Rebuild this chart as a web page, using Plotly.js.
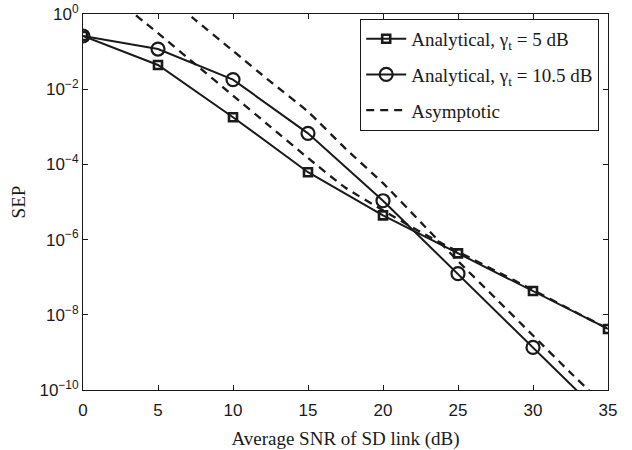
<!DOCTYPE html>
<html>
<head>
<meta charset="utf-8">
<script src="https://cdn.plot.ly/plotly-3.0.1.min.js"></script>
<style>
  html, body { margin: 0; padding: 0; background: #fff; }
  #chart { width: 632px; height: 450px; }
</style>
</head>
<body>
<div id="chart"></div>
<script>
// Average SNR of the SD link (dB)
const snrDb = [0, 5, 10, 15, 20, 25, 30, 35];

// Analytical SEP, threshold 5 dB
const sepGamma5 = [0.26, 0.044, 1.8e-3, 6.2e-5, 4.4e-6, 4.3e-7, 4.3e-8, 4.2e-9];
// Analytical SEP, threshold 10.5 dB
const sepGamma105 = [0.26, 0.117, 0.018, 6.7e-4, 1.08e-5, 1.24e-7, 1.36e-9, 1.5e-11];

// Asymptotic SEP curves (log10 values)
const asymSnr5 = [2.8, 5, 7.5, 10, 12.5, 15, 17.5, 20, 22.5, 25, 27.5, 30, 32.5, 35];
const asymLog5 = [0.2, -0.51, -1.34, -2.17, -3.0, -3.83, -4.62, -5.22, -5.8, -6.32, -6.83, -7.34, -7.86, -8.37];
const asymSnr105 = [6.5, 7.5, 10, 12.5, 15, 17.5, 20, 22.5, 25, 27.5, 30, 32.5, 35];
const asymLog105 = [0.17, -0.16, -0.98, -1.8, -2.6, -3.58, -4.5, -5.53, -6.57, -7.56, -8.55, -9.54, -10.5];

// Axis ticks
const xTicks = [0, 5, 10, 15, 20, 25, 30, 35];
const yTickExp = [0, -2, -4, -6, -8, -10];

const pow10 = v => Math.pow(10, v);

const black = '#1a1a1a';
const serif = 'Liberation Serif';
const sans = 'Liberation Sans';

const traces = [
  {
    x: snrDb, y: sepGamma5, type: 'scatter', mode: 'lines+markers',
    name: 'Analytical, γ<sub>t</sub> = 5 dB',
    legendgroup: 'a',
    line: { color: black, width: 2 },
    marker: { symbol: 'square-open', size: 8, color: black, line: { width: 2.6, color: black } }
  },
  {
    x: snrDb, y: sepGamma105, type: 'scatter', mode: 'lines+markers',
    name: 'Analytical, γ<sub>t</sub> = 10.5 dB',
    legendgroup: 'b',
    line: { color: black, width: 2 },
    marker: { symbol: 'circle-open', size: 13, color: black, line: { width: 2.2, color: black } }
  },
  {
    x: asymSnr5, y: asymLog5.map(pow10), type: 'scatter', mode: 'lines',
    name: 'Asymptotic', legendgroup: 'c',
    line: { color: black, width: 2.3, dash: '8px,6px', shape: 'spline', smoothing: 0.6 }
  },
  {
    x: asymSnr105, y: asymLog105.map(pow10), type: 'scatter', mode: 'lines',
    name: 'Asymptotic', legendgroup: 'c', showlegend: false,
    line: { color: black, width: 2.3, dash: '8px,6px', shape: 'spline', smoothing: 0.6 }
  }
];

const layout = {
  width: 632, height: 450,
  margin: { l: 83, r: 24, t: 14, b: 60 },
  paper_bgcolor: '#fff', plot_bgcolor: '#fff',
  showlegend: true,
  legend: {
    x: 0.528, y: 0.987, xanchor: 'left', yanchor: 'top',
    bgcolor: '#fff', bordercolor: black, borderwidth: 1,
    font: { family: serif, size: 19, color: black },
    traceorder: 'grouped', tracegroupgap: 8,
    itemwidth: 40
  },
  xaxis: {
    range: [0, 35], tickvals: xTicks, ticktext: xTicks.map(String),
    ticks: 'inside', ticklen: 5, tickcolor: black, mirror: 'allticks',
    showline: true, linecolor: black, linewidth: 1, showgrid: false, zeroline: false,
    tickfont: { family: sans, size: 17, color: black },
    ticklabelstandoff: 5,
    title: { text: 'Average SNR of SD link (dB)', font: { family: serif, size: 19, color: black }, standoff: 12 }
  },
  yaxis: {
    type: 'log', range: [-10, 0],
    tickvals: yTickExp.map(pow10),
    ticktext: yTickExp.map(e => '10<sup>' + (e < 0 ? '\u2212' + (-e) : e) + '</sup>'),
    ticks: 'inside', ticklen: 5, tickcolor: black, mirror: 'allticks',
    showline: true, linecolor: black, linewidth: 1, showgrid: false, zeroline: false,
    tickfont: { family: sans, size: 17, color: black },
    title: { text: 'SEP', font: { family: serif, size: 19, color: black }, standoff: 8 }
  }
};

Plotly.newPlot('chart', traces, layout, { displayModeBar: false, staticPlot: true });
</script>
</body>
</html>
